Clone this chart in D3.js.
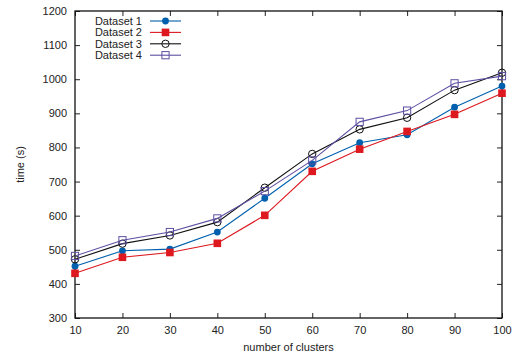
<!DOCTYPE html>
<html>
<head>
<meta charset="utf-8">
<script src="https://cdn.jsdelivr.net/npm/d3@7"></script>
<style>
  body { margin: 0; background: #fff; }
  text { font-family: "Liberation Sans", Arial, sans-serif; fill: #222; }
</style>
</head>
<body>
<div id="chart"></div>
<script>
const clusters = [10, 20, 30, 40, 50, 60, 70, 80, 90, 100];
const dataset1 = [452, 497, 502, 552, 651, 752, 814, 837, 918, 980];
const dataset2 = [431, 478, 492, 519, 601, 730, 795, 847, 897, 959];
const dataset3 = [472, 518, 542, 581, 682, 781, 853, 887, 968, 1019];
const dataset4 = [482, 528, 552, 592, 672, 762, 875, 908, 988, 1009];
const seriesNames = ['Dataset 1', 'Dataset 2', 'Dataset 3', 'Dataset 4'];
const yTicks = [300, 400, 500, 600, 700, 800, 900, 1000, 1100, 1200];

const width = 513, height = 358;
const margin = { top: 11, right: 11, bottom: 40, left: 75 };

const series = [
  { name: seriesNames[0], values: dataset1, color: '#0060ad', marker: 'circle', fill: true },
  { name: seriesNames[1], values: dataset2, color: '#dd181f', marker: 'square', fill: true },
  { name: seriesNames[2], values: dataset3, color: '#111111', marker: 'circle', fill: false },
  { name: seriesNames[3], values: dataset4, color: '#5e4fa2', marker: 'square', fill: false }
];

const svg = d3.select('#chart').append('svg')
  .attr('width', width)
  .attr('height', height);

const x = d3.scaleLinear().domain([10, 100]).range([margin.left, width - margin.right]);
const y = d3.scaleLinear().domain([300, 1200]).range([height - margin.bottom, margin.top]);

// axes, gnuplot style: ticks inward on all four sides
const tick = 5;
svg.append('g')
  .attr('transform', `translate(0,${y(300)})`)
  .call(d3.axisBottom(x).tickValues(clusters).tickSize(-tick).tickPadding(8).tickFormat(d3.format('d')))
  .call(g => g.select('.domain').remove());
svg.append('g')
  .attr('transform', `translate(0,${y(1200)})`)
  .call(d3.axisTop(x).tickValues(clusters).tickSize(-tick).tickFormat(''))
  .call(g => g.select('.domain').remove());
svg.append('g')
  .attr('transform', `translate(${x(10)},0)`)
  .call(d3.axisLeft(y).tickValues(yTicks).tickSize(-tick).tickPadding(8).tickFormat(d3.format('d')))
  .call(g => g.select('.domain').remove());
svg.append('g')
  .attr('transform', `translate(${x(100)},0)`)
  .call(d3.axisRight(y).tickValues(yTicks).tickSize(-tick).tickFormat(''))
  .call(g => g.select('.domain').remove());

svg.selectAll('.tick line').attr('stroke', '#222');
svg.selectAll('.tick text').style('font-size', '11px').attr('fill', '#222');

svg.append('rect')
  .attr('x', x(10)).attr('y', y(1200))
  .attr('width', x(100) - x(10)).attr('height', y(300) - y(1200))
  .attr('fill', 'none').attr('stroke', '#111').attr('stroke-width', 1.3);

// axis labels
svg.append('text')
  .attr('x', (x(10) + x(100)) / 2)
  .attr('y', 351)
  .attr('text-anchor', 'middle')
  .style('font-size', '11px')
  .text('number of clusters');
svg.append('text')
  .attr('transform', `translate(24,${(y(300) + y(1200)) / 2}) rotate(-90)`)
  .attr('text-anchor', 'middle')
  .style('font-size', '11px')
  .text('time (s)');

function drawMarker(g, s, cx, cy) {
  if (s.marker === 'circle') {
    g.append('circle')
      .attr('cx', cx).attr('cy', cy)
      .attr('r', s.fill ? 3.4 : 3.7)
      .attr('fill', s.fill ? s.color : 'none')
      .attr('stroke', s.color)
      .attr('stroke-width', s.fill ? 0 : 1);
  } else {
    const half = s.fill ? 3.8 : 3.6;
    g.append('rect')
      .attr('x', cx - half).attr('y', cy - half)
      .attr('width', half * 2).attr('height', half * 2)
      .attr('fill', s.fill ? s.color : 'none')
      .attr('stroke', s.color)
      .attr('stroke-width', s.fill ? 0 : 1);
  }
}

const line = d3.line()
  .x((d, i) => x(clusters[i]))
  .y(d => y(d));

series.forEach(s => {
  const g = svg.append('g');
  g.append('path')
    .attr('d', line(s.values))
    .attr('fill', 'none')
    .attr('stroke', s.color)
    .attr('stroke-width', 1.1);
  s.values.forEach((v, i) => drawMarker(g, s, x(clusters[i]), y(v)));
});

// legend
const legend = svg.append('g');
series.forEach((s, i) => {
  const ly = 21 + i * 11.4;
  legend.append('text')
    .attr('x', 142).attr('y', ly + 4)
    .attr('text-anchor', 'end')
    .style('font-size', '11px')
    .text(s.name);
  legend.append('line')
    .attr('x1', 150).attr('x2', 181)
    .attr('y1', ly).attr('y2', ly)
    .attr('stroke', s.color).attr('stroke-width', 1.1);
  drawMarker(legend, s, 165.5, ly);
});
</script>
</body>
</html>
